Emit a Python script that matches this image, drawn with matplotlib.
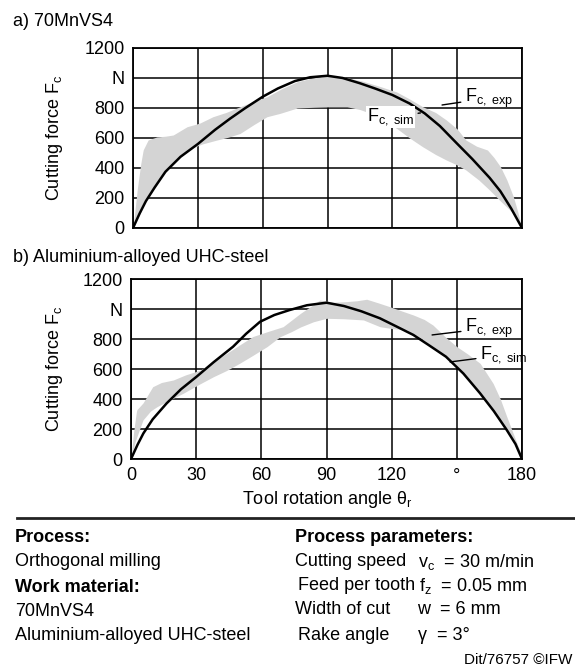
import numpy as np
import matplotlib
matplotlib.use("Agg")
import matplotlib.pyplot as plt

plt.rcParams['font.family'] = ['Liberation Sans', 'DejaVu Sans']
plt.rcParams['mathtext.fontset'] = 'custom'
plt.rcParams['mathtext.rm'] = 'Liberation Sans'
plt.rcParams['mathtext.it'] = 'Liberation Sans:italic'
plt.rcParams['mathtext.bf'] = 'Liberation Sans:bold'

# a) 70MnVS4 - simulation
theta_sim_a = [0, 3, 6, 10, 15, 22, 30, 38, 45, 52, 60, 67, 75, 82, 90, 97, 105, 112, 120, 128, 135, 142, 150, 157, 165, 170, 175, 180]
f_sim_a = [0, 95, 180, 270, 375, 475, 560, 655, 730, 800, 875, 930, 980, 1005, 1015, 1000, 965, 930, 887, 830, 764, 680, 562, 460, 335, 245, 130, 0]

# a) experiment band
theta_up_a = [0, 1, 2, 3.5, 4.7, 7, 11, 15, 18.6, 25, 31, 37, 43, 49.5, 56, 62, 69, 76, 83, 91, 98, 106, 114, 122, 128, 134, 140, 145, 150, 154, 159, 164, 167, 170, 173, 176, 178, 180]
f_up_a = [0, 130, 260, 420, 520, 587, 607, 612, 620, 675, 700, 742, 770, 808, 845, 875, 930, 975, 1000, 1020, 1005, 980, 945, 907, 860, 809, 770, 720, 660, 587, 545, 520, 470, 409, 320, 209, 110, 0]
theta_lo_a = [0, 3, 5, 10, 15, 20, 25, 32, 39, 44, 49.5, 56, 62, 68, 76, 84, 91, 99, 105, 110, 116, 122, 128, 134, 140, 145, 150, 154, 160, 165, 170, 176, 180]
f_lo_a = [0, 85, 160, 265, 370, 455, 520, 560, 587, 605, 630, 690, 742, 764, 800, 805, 808, 808, 790, 764, 720, 664, 600, 542, 490, 453, 420, 387, 320, 253, 180, 98, 0]

# b) Aluminium-alloyed UHC-steel - simulation
theta_sim_b = [0, 3, 5.7, 10, 16.4, 23, 30.2, 38, 47, 53, 59.4, 66, 73, 81, 90, 98, 106, 114.6, 122, 130, 137, 145, 153, 160.7, 167, 173, 177, 180]
f_sim_b = [0, 95, 171, 265, 371, 465, 549, 645, 749, 835, 915, 960, 993, 1025, 1042, 1020, 985, 938, 885, 827, 760, 682, 570, 438, 320, 193, 100, 0]

# b) experiment band
theta_up_b = [0, 1.2, 2.6, 5.5, 10, 14, 19.5, 25, 32, 38, 44, 50, 56, 63, 70, 78, 83, 87, 93, 99, 104, 108.5, 114, 119, 125, 130, 135, 139, 145, 150, 155, 160.7, 166.7, 170, 173, 177, 180]
f_up_b = [0, 180, 327, 373, 482, 510, 527, 560, 593, 650, 704, 760, 816, 850, 882, 971, 1020, 1060, 1045, 1049, 1055, 1065, 1040, 1016, 985, 960, 930, 893, 810, 749, 700, 638, 504, 400, 282, 130, 20]
theta_lo_b = [0, 2, 5.5, 9, 12, 18, 24, 31, 38, 44, 50, 56, 62.6, 68.6, 74, 78, 84, 90, 98, 107, 114.6, 120, 127, 135, 145, 153, 160.7, 167, 173, 177, 180]
f_lo_b = [0, 120, 260, 320, 349, 395, 438, 495, 549, 590, 638, 690, 749, 815, 850, 880, 915, 938, 935, 927, 882, 870, 860, 790, 682, 570, 438, 320, 193, 100, 0]

x_ticks = [0, 30, 60, 90, 120, 150, 180]
x_tick_labels = ['0', '30', '60', '90', '120', '°', '180']
y_ticks = [0, 200, 400, 600, 800, 1000, 1200]
y_tick_labels = ['0', '200', '400', '600', '800', 'N', '1200']

W, H = 575, 668
fig = plt.figure(figsize=(W / 100, H / 100), dpi=100)


def px_axes(x0, y0, x1, y1):
    return fig.add_axes([x0 / W, 1 - y1 / H, (x1 - x0) / W, (y1 - y0) / H])


def setup(ax, show_x):
    ax.set_xlim(0, 180)
    ax.set_ylim(0, 1200)
    ax.set_xticks(x_ticks)
    ax.set_yticks(y_ticks)
    ax.set_yticklabels(y_tick_labels)
    if show_x:
        ax.set_xticklabels(x_tick_labels)
    else:
        ax.set_xticklabels([])
    ax.tick_params(length=0, labelsize=13, pad=6)
    ax.grid(True, color='black', lw=1.1, zorder=1)
    ax.set_axisbelow(True)
    for s in ax.spines.values():
        s.set_linewidth(1.3)


def band(ax, tu, fu, tl, fl, ts, fs):
    tt = np.linspace(0, 180, 721)
    ax.fill_between(tt, np.interp(tt, tl, fl), np.interp(tt, tu, fu),
                    color='#d4d4d4', lw=0, zorder=2)
    ax.plot(ts, fs, color='black', lw=1.8, zorder=3)


ax1 = px_axes(133, 48, 522, 228)
setup(ax1, False)
band(ax1, theta_up_a, f_up_a, theta_lo_a, f_lo_a, theta_sim_a, f_sim_a)
ax1.set_ylabel('Cutting force F$_\\mathrm{c}$', fontsize=13)
ax1.yaxis.set_label_coords(-0.175, 0.5)
ax1.annotate('F$_\\mathrm{c,\\ exp}$', xy=(143, 820), xytext=(153.6, 867),
             fontsize=13, va='center', ha='left', zorder=5,
             arrowprops=dict(arrowstyle='-', lw=1, color='black', shrinkA=1, shrinkB=0))
ax1.annotate('F$_\\mathrm{c,\\ sim}$', xy=(133, 767), xytext=(108.3, 740),
             fontsize=13, va='center', ha='left', zorder=5,
             bbox=dict(boxstyle='square,pad=0.05', fc='white', ec='none'),
             arrowprops=dict(arrowstyle='-', lw=1, color='black', shrinkA=2, shrinkB=0))

ax2 = px_axes(131, 279, 522, 459)
setup(ax2, True)
band(ax2, theta_up_b, f_up_b, theta_lo_b, f_lo_b, theta_sim_b, f_sim_b)
ax2.set_ylabel('Cutting force F$_\\mathrm{c}$', fontsize=13)
ax2.yaxis.set_label_coords(-0.169, 0.5)
ax2.annotate('F$_\\mathrm{c,\\ exp}$', xy=(138.6, 827), xytext=(153.8, 873),
             fontsize=13, va='center', ha='left', zorder=5,
             arrowprops=dict(arrowstyle='-', lw=1, color='black', shrinkA=1, shrinkB=0))
ax2.annotate('F$_\\mathrm{c,\\ sim}$', xy=(146.9, 647), xytext=(160.7, 693),
             fontsize=13, va='center', ha='left', zorder=5,
             arrowprops=dict(arrowstyle='-', lw=1, color='black', shrinkA=1, shrinkB=0))


def ftext(x, y, s, **kw):
    kw.setdefault('fontsize', 13)
    kw.setdefault('va', 'center')
    fig.text(x / W, 1 - y / H, s, **kw)


ftext(13, 22, 'a) 70MnVS4')
ftext(13, 257, 'b) Aluminium-alloyed UHC-steel')
ftext(327, 499, 'Tool rotation angle θ$_\\mathrm{r}$', ha='center')

fig.add_artist(plt.Line2D([17 / W, 1], [1 - 518 / H, 1 - 518 / H], color='#222222', lw=2))

ftext(15, 538, 'Process:', fontweight='bold')
ftext(15, 562, 'Orthogonal milling')
ftext(15, 587, 'Work material:', fontweight='bold')
ftext(15, 612, '70MnVS4')
ftext(15, 636, 'Aluminium-alloyed UHC-steel')

ftext(295, 538, 'Process parameters:', fontweight='bold')
ftext(295, 562, 'Cutting speed')
ftext(418, 562, 'v$_\\mathrm{c}$  = 30 m/min')
ftext(298, 586, 'Feed per tooth')
ftext(419, 586, 'f$_\\mathrm{z}$  = 0.05 mm')
ftext(295, 610, 'Width of cut')
ftext(417, 610, 'w  = 6 mm')
ftext(298, 636, 'Rake angle')
ftext(418, 636, 'γ  = 3°')
ftext(572, 660, 'Dit/76757 ©IFW', fontsize=11, ha='right')

fig.savefig('out.png', dpi=100)
